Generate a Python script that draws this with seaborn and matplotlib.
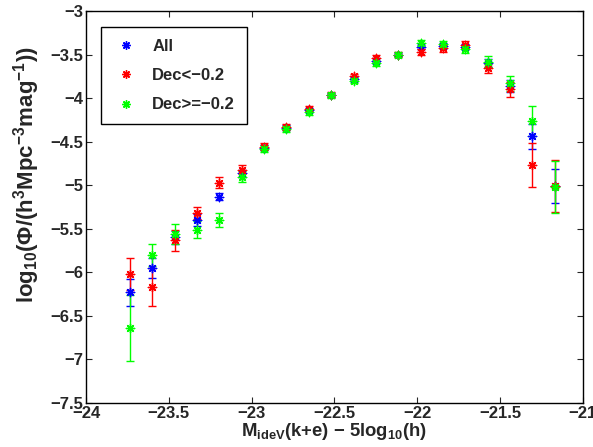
import matplotlib
matplotlib.use("Agg")
import matplotlib.pyplot as plt
from matplotlib.lines import Line2D
import seaborn as sns
import numpy as np
import pandas as pd

# ---- data ----
mag = [-23.735, -23.60, -23.465, -23.33, -23.195, -23.06, -22.925, -22.79, -22.655, -22.52,
       -22.385, -22.25, -22.115, -21.98, -21.845, -21.71, -21.575, -21.44, -21.305, -21.17]

all_y = [-6.23, -5.95, -5.60, -5.40, -5.13, -4.86, -4.57, -4.34, -4.14, -3.965,
         -3.78, -3.57, -3.50, -3.41, -3.40, -3.41, -3.60, -3.86, -4.44, -5.01]
all_err = [0.155, 0.115, 0.08, 0.065, 0.045, 0.04, 0.03, 0.03, 0.025, 0.02,
           0.02, 0.025, 0.02, 0.025, 0.03, 0.03, 0.045, 0.065, 0.14, 0.195]

red_y = [-6.02, -6.17, -5.63, -5.32, -4.97, -4.82, -4.56, -4.33, -4.12, -3.96,
         -3.75, -3.54, -3.50, -3.47, -3.43, -3.39, -3.66, -3.90, -4.77, -5.01]
red_err = [0.18, 0.215, 0.12, 0.07, 0.06, 0.05, 0.04, 0.035, 0.03, 0.03,
           0.03, 0.03, 0.025, 0.03, 0.035, 0.04, 0.055, 0.09, 0.25, 0.30]

green_y = [-6.64, -5.80, -5.56, -5.51, -5.40, -4.90, -4.58, -4.35, -4.16, -3.97,
           -3.80, -3.60, -3.50, -3.37, -3.38, -3.44, -3.58, -3.83, -4.26, -5.02]
green_err = [0.38, 0.13, 0.12, 0.095, 0.08, 0.06, 0.04, 0.035, 0.03, 0.03,
             0.03, 0.03, 0.025, 0.035, 0.04, 0.04, 0.06, 0.085, 0.17, 0.30]

labels = ["All", "Dec<\u22120.2", "Dec>=\u22120.2"]
colors = ["#0000ff", "#ff0000", "#00ff00"]

xticks = [-24, -23.5, -23, -22.5, -22, -21.5, -21]
yticks = [-7.5, -7, -6.5, -6, -5.5, -5, -4.5, -4, -3.5, -3]

# ---- style ----
sns.set_style("ticks")
plt.rcParams['font.family'] = ['Liberation Sans', 'DejaVu Sans']
plt.rcParams['font.weight'] = 'bold'
plt.rcParams['mathtext.fontset'] = 'custom'
plt.rcParams['mathtext.rm'] = 'Liberation Sans:bold'
plt.rcParams['mathtext.it'] = 'Liberation Sans:bold'
plt.rcParams['mathtext.bf'] = 'Liberation Sans:bold'
plt.rcParams['mathtext.default'] = 'rm'

fig = plt.figure(figsize=(5.93, 4.47), dpi=100)
ax = fig.add_axes([0.145, 0.0984, 0.838, 0.877])

series = [(all_y, all_err), (red_y, red_err), (green_y, green_err)]
frames = []
for lab, (yv, ev) in zip(labels, series):
    frames.append(pd.DataFrame({"mag": mag, "phi": yv, "err": ev, "sample": lab}))
df = pd.concat(frames, ignore_index=True)

star = (8, 2, 0)
for lab, col in zip(labels, colors):
    d = df[df["sample"] == lab]
    ax.errorbar(d["mag"], d["phi"], yerr=d["err"], fmt="none", ecolor=col,
                elinewidth=1.0, capsize=3.2, capthick=1.0, zorder=2)
    sns.scatterplot(data=d, x="mag", y="phi", color=col, marker=star, s=36,
                    linewidth=1.0, edgecolor=col, ax=ax, zorder=3, legend=False)

ax.set_xlim(-24, -21)
ax.set_ylim(-7.5, -3)
ax.set_xticks(xticks)
ax.set_yticks(yticks)
ax.set_xticklabels([f"{t:g}".replace("-", "\u2212") for t in xticks],
                   fontsize=12, fontweight="bold")
ax.set_yticklabels([f"{t:g}".replace("-", "\u2212") for t in yticks],
                   fontsize=12, fontweight="bold")
ax.tick_params(direction="in", length=4, width=0.8, top=True, right=True, pad=2)
for sp in ax.spines.values():
    sp.set_visible(True)
    sp.set_linewidth(1.0)
    sp.set_color("black")

ax.set_xlabel(r"M$_{ideV}$(k+e) $-$ 5log$_{10}$(h)", fontsize=13.3, fontweight="bold",
              labelpad=0)
ax.set_ylabel(r"log$_{10}$($\Phi$/(h$^3$Mpc$^{-3}$mag$^{-1}$))", fontsize=16,
              fontweight="bold")
ax.yaxis.set_label_coords(-0.088, 0.584)

handles = [Line2D([], [], linestyle="none", marker=star, markersize=6,
                  markeredgewidth=1.0, color=c) for c in colors]
leg = ax.legend(handles, labels, loc="upper left", bbox_to_anchor=(0.0296, 0.958),
                frameon=True, fancybox=False, edgecolor="black", framealpha=1,
                prop={"size": 12, "weight": "bold"}, labelspacing=0.85,
                handlelength=1.6, handletextpad=0.8, borderpad=0.7, borderaxespad=0)
leg.get_frame().set_linewidth(1.0)

fig.savefig("out.png", dpi=100)
